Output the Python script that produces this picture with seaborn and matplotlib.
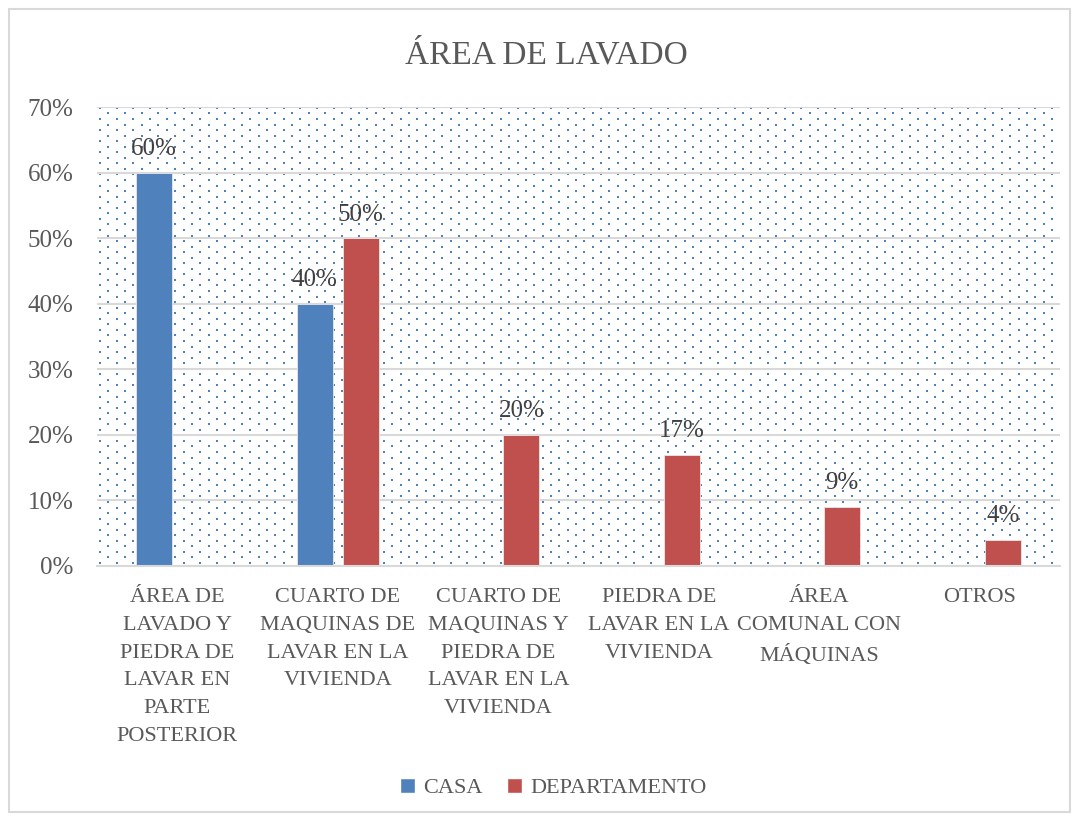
import numpy as np
import pandas as pd
import seaborn as sns
import matplotlib.pyplot as plt
from matplotlib.patches import Rectangle
from matplotlib.ticker import PercentFormatter

categories = ['ÁREA DE\nLAVADO Y\nPIEDRA DE\nLAVAR EN\nPARTE\nPOSTERIOR',
              'CUARTO DE\nMAQUINAS DE\nLAVAR EN LA\nVIVIENDA',
              'CUARTO DE\nMAQUINAS Y\nPIEDRA DE\nLAVAR EN LA\nVIVIENDA',
              'PIEDRA DE\nLAVAR EN LA\nVIVIENDA',
              'ÁREA\nCOMUNAL CON\nMÁQUINAS',
              'OTROS']
casa = [0.60, 0.40, None, None, None, None]
departamento = [None, 0.50, 0.20, 0.17, 0.09, 0.04]
series = ['CASA', 'DEPARTAMENTO']
colors = ['#4F81BD', '#C0504D']

rows = []
for name, vals in zip(series, [casa, departamento]):
    for cat, v in zip(categories, vals):
        if v is not None:
            rows.append({'cat': cat, 'tipo': name, 'val': v})
df = pd.DataFrame(rows)

sns.set_theme(style='white')
plt.rcParams['font.family'] = ['Liberation Serif', 'DejaVu Serif']
gray = '#595959'

W, H = 1078, 819
fig = plt.figure(figsize=(W / 100, H / 100), dpi=100)
fig.patches.append(Rectangle((9 / W, 7 / H), 1061 / W, 803 / H,
                             transform=fig.transFigure, fill=False,
                             edgecolor='#D9D9D9', lw=1.5))
ax_w, ax_h = 963, 459
ax = fig.add_axes([97 / W, 1 - 566 / H, ax_w / W, ax_h / H])

# dotted plot area texture (excel "5%" pattern look)
px, py = [], []
for j, yy in enumerate(np.arange(3, ax_h, 5.55)):
    off = 0 if j % 2 == 0 else 8.35
    for xx in np.arange(3 + off, ax_w, 16.7):
        px.append(xx / ax_w)
        py.append(yy / ax_h)
ax.scatter(px, py, s=1.8, marker='s', color='#4F81BD', linewidths=0,
           transform=ax.transAxes, zorder=0.2, clip_on=True)

sns.barplot(data=df, x='cat', y='val', hue='tipo', order=categories,
            hue_order=series, palette=colors, width=0.575, gap=0.22,
            saturation=1, edgecolor='#E8E8E8', linewidth=0.6, ax=ax, zorder=3)

for c in ax.containers:
    ax.bar_label(c, fmt=lambda v: f'{v:.0%}', padding=9, fontsize=18, color='#404040')

ax.set_ylim(0, 0.7)
ax.set_yticks(np.arange(0, 0.71, 0.1))
ax.yaxis.set_major_formatter(PercentFormatter(1.0, decimals=0))
ax.set_xlim(-0.5, 5.5)
ax.set_axisbelow(True)
ax.grid(axis='y', color='#D9D9D9', lw=1.5, zorder=1)
for s in ['left', 'right', 'top']:
    ax.spines[s].set_visible(False)
ax.spines['bottom'].set_color('#D9D9D9')
ax.spines['bottom'].set_linewidth(1.5)
ax.spines['bottom'].set_zorder(4)
ax.tick_params(axis='y', length=0, labelsize=18, labelcolor=gray, pad=17)
ax.tick_params(axis='x', length=0, labelsize=16, labelcolor=gray, pad=16)
for t in ax.get_xticklabels():
    t.set_linespacing(1.62)
ax.set_xlabel('')
ax.set_ylabel('')

fig.text(546 / W, 1 - 63 / H, 'ÁREA DE LAVADO', fontsize=24, color=gray,
         ha='center', va='baseline')

ax.get_legend().remove()
handles = [Rectangle((0, 0), 1, 1, facecolor=c) for c in colors]
fig.legend(handles, series, loc='center', bbox_to_anchor=(553 / W, 1 - 788 / H),
           ncol=2, frameon=False, fontsize=16, labelcolor=gray,
           handlelength=0.7, handleheight=0.7, handletextpad=0.35, columnspacing=1.1)

fig.savefig('out.png', dpi=100)
